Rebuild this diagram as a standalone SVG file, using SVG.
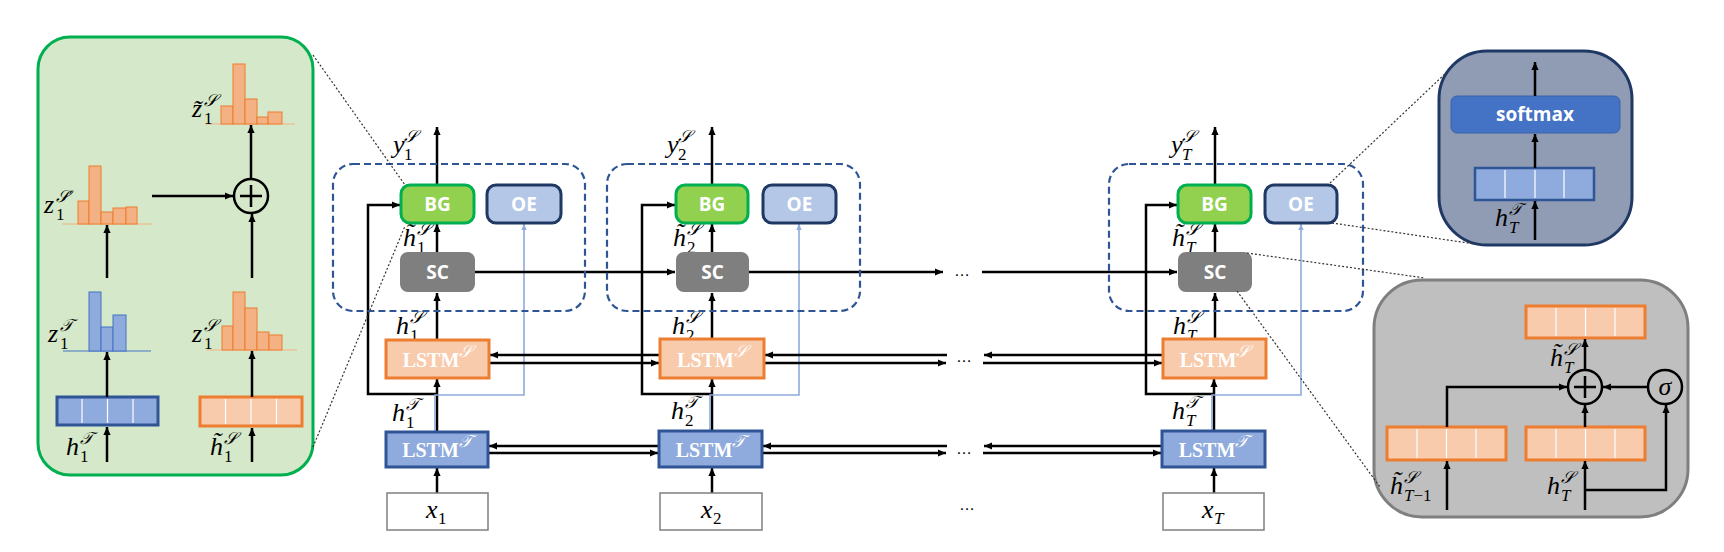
<svg xmlns="http://www.w3.org/2000/svg" width="1724" height="552" viewBox="0 0 1724 552">
<defs>
<marker id="ah" viewBox="0 0 10 10" refX="10" refY="5" markerWidth="9" markerHeight="8" markerUnits="userSpaceOnUse" orient="auto"><path d="M0,0.5 L10,5 L0,9.5 z" fill="#000"/></marker>
<marker id="ahb" viewBox="0 0 10 10" refX="10" refY="5" markerWidth="7" markerHeight="6" markerUnits="userSpaceOnUse" orient="auto"><path d="M0,0.5 L10,5 L0,9.5 z" fill="#8FAADC"/></marker>
</defs>
<style>
.ln{fill:none;stroke:#000;stroke-width:2.5}
.ar{fill:none;stroke:#000;stroke-width:2.5;marker-end:url(#ah)}
.lb{fill:none;stroke:#8FAADC;stroke-width:1.6;marker-end:url(#ahb)}
.dot{fill:none;stroke:#333;stroke-width:1.2;stroke-dasharray:2 2}
.dash{fill:none;stroke:#2F5597;stroke-width:2.2;stroke-dasharray:7 4}
.bg{fill:#92D050;stroke:#00B050;stroke-width:3}
.oe{fill:#B4C7E7;stroke:#203864;stroke-width:3}
.sc{fill:#7F7F7F}
.ls{fill:#F8CBAD;stroke:#ED7D31;stroke-width:3}
.lt{fill:#8FAADC;stroke:#2F5597;stroke-width:3}
.xb{fill:#fff;stroke:#7F7F7F;stroke-width:1.5}
.cap{font-family:"Open Sans","Liberation Sans",sans-serif;font-weight:bold;font-size:19px;fill:#fff;text-anchor:middle}
.sm{font-size:19px}
.lst{font-family:"Liberation Serif",serif;font-weight:bold;font-size:20px;fill:#fff;text-anchor:middle}
.sup{font-size:17px;font-weight:normal;font-style:italic}
.m{font-family:"Liberation Serif",serif;font-style:italic;font-size:26px;fill:#000}
.s{font-family:"Liberation Serif",serif;font-size:17px;fill:#000}
.i{font-style:italic}
.pr{font-family:"DejaVu Serif",serif;font-size:16px;fill:#000}
.bo{fill:#F4B183;stroke:#ED7D31;stroke-width:1}
.bb{fill:#8FAADC;stroke:#4472C4;stroke-width:1}
.cell{stroke:#fff;stroke-width:1.2}
.dots{font-family:"Liberation Sans",sans-serif;font-size:16px;fill:#000;text-anchor:middle}
</style>
<rect width="1724" height="552" fill="#fff"/>

<!-- BG detail callout -->
<g id="bg-detail">
<rect x="38" y="37" width="275" height="438" rx="32" fill="#D5E8C9" stroke="#00B050" stroke-width="3"/>
<rect x="57" y="397" width="101" height="28" fill="#8FAADC" stroke="#2F5597" stroke-width="3"/>
<path class="cell" d="M82,399V423M107.5,399V423M133,399V423"/>
<rect x="200" y="397" width="102" height="29" fill="#F8CBAD" stroke="#ED7D31" stroke-width="3"/>
<path class="cell" d="M225.5,399V424M251,399V424M276.5,399V424"/>
<line x1="63" y1="351" x2="151" y2="351" stroke="#4472C4" stroke-width="1.2"/>
<rect class="bb" x="89" y="292" width="12" height="59"/>
<rect class="bb" x="101" y="327" width="12" height="24"/>
<rect class="bb" x="113" y="315" width="13" height="36"/>
<line x1="207" y1="350" x2="297" y2="350" stroke="#F4B183" stroke-width="1.2"/>
<rect class="bo" x="222" y="326" width="11" height="24"/>
<rect class="bo" x="233" y="292" width="12" height="58"/>
<rect class="bo" x="245" y="308" width="12" height="42"/>
<rect class="bo" x="257" y="332" width="12" height="18"/>
<rect class="bo" x="269" y="335" width="13" height="15"/>
<line x1="62" y1="224" x2="152" y2="224" stroke="#F4B183" stroke-width="1.2"/>
<rect class="bo" x="78" y="201" width="11" height="23"/>
<rect class="bo" x="89" y="166" width="12" height="58"/>
<rect class="bo" x="101" y="212" width="12" height="12"/>
<rect class="bo" x="113" y="208" width="13" height="16"/>
<rect class="bo" x="126" y="207" width="11" height="17"/>
<line x1="205" y1="124" x2="295" y2="124" stroke="#F4B183" stroke-width="1.2"/>
<rect class="bo" x="221" y="106" width="12" height="18"/>
<rect class="bo" x="233" y="64" width="12" height="60"/>
<rect class="bo" x="245" y="99" width="12" height="25"/>
<rect class="bo" x="257" y="117" width="11" height="7"/>
<rect class="bo" x="268" y="112" width="14" height="12"/>
<circle cx="251" cy="196" r="17" fill="none" stroke="#000" stroke-width="2.5"/>
<path d="M240,196H262M251,185V207" stroke="#000" stroke-width="2.5"/>
<path class="ar" d="M107,462V427"/>
<path class="ar" d="M252,462V428"/>
<path class="ar" d="M107,397V352"/>
<path class="ar" d="M252,397V351"/>
<path class="ar" d="M107,278V225"/>
<path class="ar" d="M252,278V214"/>
<path class="ar" d="M152,196H233"/>
<path class="ar" d="M251,179V125"/>
<text class="m" x="66" y="455">h</text><text class="s i" x="80" y="444">𝒯</text><text class="s" x="80" y="462">1</text>
<text class="m" x="210" y="455">h&#x303;</text><text class="s i" x="224" y="444">𝒮</text><text class="s" x="224" y="462">1</text>
<text class="m" x="48" y="342">z</text><text class="s i" x="60" y="331">𝒯</text><text class="s" x="60" y="349">1</text>
<text class="m" x="192" y="342">z</text><text class="s i" x="204" y="331">𝒮</text><text class="s" x="204" y="349">1</text>
<text class="m" x="44" y="213">z</text><text class="s i" x="56" y="202">𝒮</text><text class="pr" x="69" y="203">′</text><text class="s" x="56" y="220">1</text>
<text class="m" x="192" y="117">z&#x303;</text><text class="s i" x="204" y="106">𝒮</text><text class="s" x="204" y="124">1</text>
</g>

<!-- OE detail callout -->
<g id="oe-detail">
<rect x="1439" y="51" width="193" height="194" rx="48" fill="#8F9CB4" stroke="#203864" stroke-width="3"/>
<rect x="1451" y="96" width="169" height="37" rx="6" fill="#4472C4" stroke="#3A62A8" stroke-width="1"/>
<text class="cap sm" x="1535" y="121">softmax</text>
<rect x="1475" y="168" width="119" height="32" fill="#8FAADC" stroke="#2F5597" stroke-width="2.5"/>
<path class="cell" d="M1505,170V198M1535,170V198M1564,170V198"/>
<path class="ar" d="M1535,240V201"/>
<path class="ar" d="M1535,168V134"/>
<path class="ar" d="M1535,96V62"/>
<text class="m" x="1495" y="226">h</text><text class="s i" x="1509" y="215">𝒯</text><text class="s i" x="1509" y="233">T</text>
</g>

<!-- SC detail callout -->
<g id="sc-detail">
<rect x="1374" y="280" width="314" height="237" rx="48" fill="#BFBFBF" stroke="#7F7F7F" stroke-width="3"/>
<rect x="1526" y="306" width="119" height="32" fill="#F8CBAD" stroke="#ED7D31" stroke-width="3"/>
<path class="cell" d="M1556,308V336M1585.5,308V336M1615,308V336"/>
<rect x="1387" y="427" width="119" height="33" fill="#F8CBAD" stroke="#ED7D31" stroke-width="3"/>
<path class="cell" d="M1417,429V458M1446.5,429V458M1476,429V458"/>
<rect x="1526" y="427" width="119" height="33" fill="#F8CBAD" stroke="#ED7D31" stroke-width="3"/>
<path class="cell" d="M1556,429V458M1585.5,429V458M1615,429V458"/>
<circle cx="1585" cy="387" r="17" fill="none" stroke="#000" stroke-width="2.5"/>
<path d="M1574,387H1596M1585,376V398" stroke="#000" stroke-width="2.5"/>
<circle cx="1665" cy="387" r="17" fill="none" stroke="#000" stroke-width="2.5"/>
<text x="1665" y="395" font-family="Liberation Serif,serif" font-style="italic" font-size="26" text-anchor="middle">σ</text>
<path class="ar" d="M1447,510V461"/>
<path class="ar" d="M1585,510V461"/>
<path class="ar" d="M1585,490H1666V405"/>
<path class="ar" d="M1447,427V387H1567"/>
<path class="ar" d="M1648,387H1603"/>
<path class="ar" d="M1585,427V405"/>
<path class="ar" d="M1585,370V339"/>
<text class="m" x="1390" y="494">h&#x303;</text><text class="s i" x="1404" y="483">𝒮</text><text class="s i" x="1404" y="501">T<tspan font-style="normal">−1</tspan></text>
<text class="m" x="1547" y="494">h</text><text class="s i" x="1561" y="483">𝒮</text><text class="s i" x="1561" y="501">T</text>
<text class="m" x="1550" y="366">h&#x303;</text><text class="s i" x="1564" y="355">𝒮</text><text class="s i" x="1564" y="373">T</text>
</g>

<!-- connectors -->
<g id="connectors">
<path class="ar" d="M437,493V468"/>
<path class="ar" d="M437,432V379"/>
<path class="ar" d="M437,394H368V205H400"/>
<path class="lb" d="M435,432V395H524V224"/>
<path class="ar" d="M437,340V293"/>
<path class="ar" d="M437,252V224"/>
<path class="ar" d="M437,185V127"/>
<path class="ar" d="M712,493V468"/>
<path class="ar" d="M712,431V379"/>
<path class="ar" d="M712,394H642V205H675"/>
<path class="lb" d="M710,431V395H799V224"/>
<path class="ar" d="M712,339V293"/>
<path class="ar" d="M712,252V224"/>
<path class="ar" d="M712,185V127"/>
<path class="ar" d="M1214,493V468"/>
<path class="ar" d="M1214,431V379"/>
<path class="ar" d="M1214,394H1146V205H1177"/>
<path class="lb" d="M1212,431V395H1301V224"/>
<path class="ar" d="M1215,339V293"/>
<path class="ar" d="M1215,252V224"/>
<path class="ar" d="M1215,185V127"/>
<path class="ar" d="M475,272H675"/>
<path class="ar" d="M749,272H943"/>
<path class="ar" d="M982,272H1177"/>
<path class="ar" d="M660,355H490"/>
<path class="ar" d="M489,363H659"/>
<path class="ar" d="M947,355H765"/>
<path class="ar" d="M764,363H946"/>
<path class="ar" d="M1163,355H984"/>
<path class="ar" d="M983,363H1162"/>
<path class="ar" d="M659,446H489"/>
<path class="ar" d="M488,453H658"/>
<path class="ar" d="M947,446H763"/>
<path class="ar" d="M762,453H946"/>
<path class="ar" d="M1162,446H984"/>
<path class="ar" d="M983,453H1161"/>
<text class="dots" x="962" y="276">…</text>
<text class="dots" x="964" y="362">…</text>
<text class="dots" x="964" y="454">…</text>
<text class="dots" x="967" y="510">…</text>
</g>

<!-- labels -->
<g id="labels">
<text class="m" x="393" y="153">y</text><text class="s i" x="404" y="142">𝒮</text><text class="s" x="404" y="160">1</text>
<text class="m" x="667" y="153">y</text><text class="s i" x="678" y="142">𝒮</text><text class="s" x="678" y="160">2</text>
<text class="m" x="1171" y="153">y</text><text class="s i" x="1182" y="142">𝒮</text><text class="s i" x="1182" y="160">T</text>
<text class="m" x="403" y="246">h&#x303;</text><text class="s i" x="417" y="235">𝒮</text><text class="s" x="417" y="253">1</text>
<text class="m" x="673" y="246">h&#x303;</text><text class="s i" x="687" y="235">𝒮</text><text class="s" x="687" y="253">2</text>
<text class="m" x="1172" y="246">h&#x303;</text><text class="s i" x="1186" y="235">𝒮</text><text class="s i" x="1186" y="253">T</text>
<text class="m" x="396" y="334">h</text><text class="s i" x="410" y="323">𝒮</text><text class="s" x="410" y="341">1</text>
<text class="m" x="672" y="334">h</text><text class="s i" x="686" y="323">𝒮</text><text class="s" x="686" y="341">2</text>
<text class="m" x="1173" y="334">h</text><text class="s i" x="1187" y="323">𝒮</text><text class="s i" x="1187" y="341">T</text>
<text class="m" x="392" y="421">h</text><text class="s i" x="406" y="410">𝒯</text><text class="s" x="406" y="428">1</text>
<text class="m" x="671" y="419">h</text><text class="s i" x="685" y="408">𝒯</text><text class="s" x="685" y="426">2</text>
<text class="m" x="1172" y="419">h</text><text class="s i" x="1186" y="408">𝒯</text><text class="s i" x="1186" y="426">T</text>
</g>

<g id="block-1"><rect class="dash" x="333" y="164" width="252" height="147" rx="20"/></g>
<g id="bg-1"><rect class="bg" x="401" y="185" width="73" height="38" rx="9"/><text class="cap" x="437.5" y="211">BG</text></g>
<g id="oe-1"><rect class="oe" x="487" y="185" width="74" height="38" rx="9"/><text class="cap" x="524" y="211">OE</text></g>
<g id="sc-1"><rect class="sc" x="400" y="252" width="75" height="40" rx="8"/><text class="cap" x="437.5" y="279">SC</text></g>
<g id="lstms-1"><rect class="ls" x="386" y="340" width="103" height="38"/><text class="lst" x="437.5" y="367">LSTM<tspan class="sup" dy="-10">𝒮</tspan></text></g>
<g id="lstmt-1"><rect class="lt" x="386" y="432" width="102" height="35"/><text class="lst" x="437" y="457">LSTM<tspan class="sup" dy="-10">𝒯</tspan></text></g>
<g id="x-1"><rect class="xb" x="387" y="493" width="101" height="37"/><text class="m" x="426" y="518">x</text><text class="s" x="438" y="524">1</text></g>

<g id="block-2"><rect class="dash" x="607" y="164" width="253" height="147" rx="20"/></g>
<g id="bg-2"><rect class="bg" x="676" y="185" width="72" height="38" rx="9"/><text class="cap" x="712" y="211">BG</text></g>
<g id="oe-2"><rect class="oe" x="763" y="185" width="73" height="38" rx="9"/><text class="cap" x="799.5" y="211">OE</text></g>
<g id="sc-2"><rect class="sc" x="676" y="252" width="73" height="40" rx="8"/><text class="cap" x="712.5" y="279">SC</text></g>
<g id="lstms-2"><rect class="ls" x="660" y="339" width="104" height="39"/><text class="lst" x="712" y="367">LSTM<tspan class="sup" dy="-10">𝒮</tspan></text></g>
<g id="lstmt-2"><rect class="lt" x="659" y="431" width="103" height="36"/><text class="lst" x="710.5" y="457">LSTM<tspan class="sup" dy="-10">𝒯</tspan></text></g>
<g id="x-2"><rect class="xb" x="660" y="493" width="102" height="37"/><text class="m" x="701" y="518">x</text><text class="s" x="713" y="524">2</text></g>

<g id="block-T"><rect class="dash" x="1109" y="164" width="254" height="147" rx="20"/></g>
<g id="bg-T"><rect class="bg" x="1178" y="185" width="73" height="38" rx="9"/><text class="cap" x="1214.5" y="211">BG</text></g>
<g id="oe-T"><rect class="oe" x="1265" y="185" width="72" height="38" rx="9"/><text class="cap" x="1301" y="211">OE</text></g>
<g id="sc-T"><rect class="sc" x="1178" y="252" width="74" height="40" rx="8"/><text class="cap" x="1215" y="279">SC</text></g>
<g id="lstms-T"><rect class="ls" x="1163" y="339" width="103" height="39"/><text class="lst" x="1214.5" y="367">LSTM<tspan class="sup" dy="-10">𝒮</tspan></text></g>
<g id="lstmt-T"><rect class="lt" x="1162" y="431" width="103" height="36"/><text class="lst" x="1213.5" y="457">LSTM<tspan class="sup" dy="-10">𝒯</tspan></text></g>
<g id="x-T"><rect class="xb" x="1163" y="493" width="101" height="37"/><text class="m" x="1202" y="518">x</text><text class="s i" x="1214" y="524">T</text></g>

<g id="guides">
<path class="dot" d="M313,55L405,185"/>
<path class="dot" d="M313,447L405,226"/>
<path class="dot" d="M1330,183L1447,72"/>
<path class="dot" d="M1332,223L1475,244"/>
<path class="dot" d="M1247,253L1425,278"/>
<path class="dot" d="M1237,291L1380,487"/>
</g>
</svg>
